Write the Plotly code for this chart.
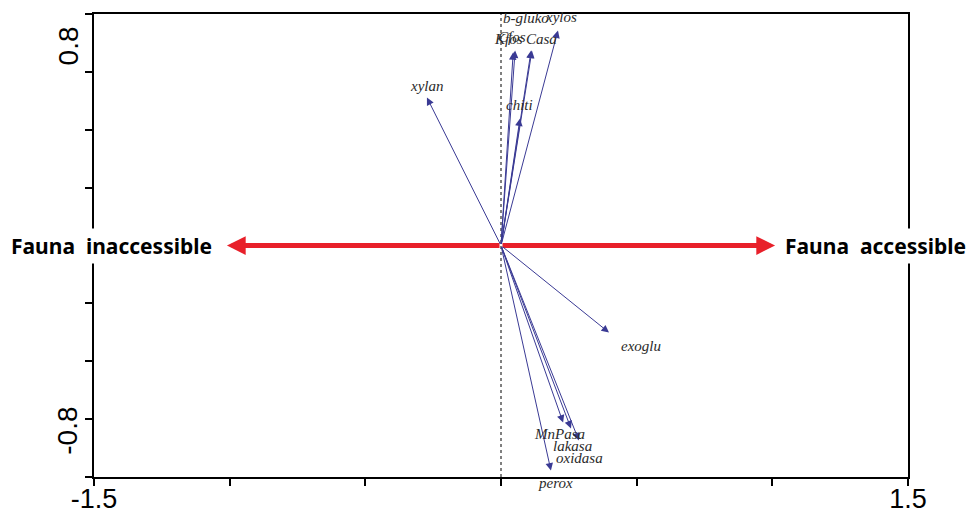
import plotly.graph_objects as go

# ---- data ----
variables = ["xylan", "chiti", "b-gluko", "xylos", "Kfos", "Cfos", "Casa",
             "exoglu", "MnPasa", "lakasa", "oxidasa", "perox"]
arrow_x = [-0.273, 0.070, 0.111, 0.210, 0.052, 0.045, 0.114,
           0.398, 0.229, 0.258, 0.287, 0.184]
arrow_y = [0.639, 0.549, 0.842, 0.929, 0.842, 0.835, 0.842,
           -0.376, -0.765, -0.790, -0.842, -0.972]
label_x = [-0.273, 0.070, 0.092, 0.221, 0.029, 0.040, 0.151,
           0.516, 0.214, 0.262, 0.291, 0.199]
label_y = [0.691, 0.609, 0.981, 0.985, 0.894, 0.900, 0.894,
           -0.432, -0.816, -0.864, -0.920, -1.024]

x_tick_vals = [-1.5, -1.0, -0.5, 0.0, 0.5, 1.0, 1.5]
x_tick_text = ["-1.5", "", "", "", "", "", "1.5"]
y_tick_vals = [-1.0, -0.75, -0.5, -0.25, 0.0, 0.25, 0.5, 0.75, 1.0]
y_label_text = ["0.8", "-0.8"]
y_label_pos = [0.86, -0.80]

gradient_x = [-1.01, 1.01]
gradient_names = ["Fauna\u00a0 inaccessible", "Fauna\u00a0 accessible"]
gradient_label_x = [-1.437, 1.379]

X_RANGE = [-1.5, 1.5]
Y_RANGE = [-1.0, 1.0]

BLUE = "#3a3a94"
RED = "#e8202a"

fig = go.Figure()

# dotted vertical line at x=0
fig.add_trace(go.Scatter(x=[0, 0], y=Y_RANGE, mode="lines",
                         line=dict(color="black", width=1, dash="dot"),
                         hoverinfo="skip", showlegend=False))

annotations = []
# red double arrow
for gx in gradient_x:
    annotations.append(dict(x=gx, y=0, ax=0, ay=0, xref="x", yref="y",
                            axref="x", ayref="y", text="", showarrow=True,
                            arrowhead=2, arrowsize=0.75, arrowwidth=5,
                            arrowcolor=RED, standoff=0, startstandoff=0))
# blue biplot arrows
for vx, vy in zip(arrow_x, arrow_y):
    annotations.append(dict(x=vx, y=vy, ax=0, ay=0, xref="x", yref="y",
                            axref="x", ayref="y", text="", showarrow=True,
                            arrowhead=2, arrowsize=1.5, arrowwidth=1,
                            arrowcolor=BLUE, standoff=0))
# variable labels (labels beyond the y range are placed in paper units so they stay visible)
for name, lx, ly in zip(variables, label_x, label_y):
    ann = dict(x=lx, y=ly, xref="x", yref="y", text="<i>" + name + "</i>",
               showarrow=False, xanchor="center", yanchor="middle",
               font=dict(family="Liberation Serif", size=15, color="#2b2b2b"))
    if ly < Y_RANGE[0] or ly > Y_RANGE[1]:
        ann["yref"] = "paper"
        ann["y"] = (ly - Y_RANGE[0]) / (Y_RANGE[1] - Y_RANGE[0])
    annotations.append(ann)
# gradient labels
for name, gx in zip(gradient_names, gradient_label_x):
    annotations.append(dict(x=gx, y=0, xref="x", yref="y", text="<b>" + name + "</b>",
                            showarrow=False, xanchor="center", yanchor="middle",
                            bgcolor="white", borderpad=3,
                            font=dict(family="Noto Sans", size=21, color="black")))
# y tick labels (rotated)
for t, p in zip(y_label_text, y_label_pos):
    annotations.append(dict(x=0, y=p, xref="paper", yref="y", text=t,
                            showarrow=False, textangle=-90, xanchor="center",
                            yanchor="middle", xshift=-26,
                            font=dict(family="Liberation Sans", size=28, color="black")))

fig.update_layout(
    width=971, height=521,
    margin=dict(l=94, r=63, t=14, b=44, autoexpand=False),
    paper_bgcolor="white", plot_bgcolor="white",
    showlegend=False,
    annotations=annotations,
    xaxis=dict(range=X_RANGE, tickvals=x_tick_vals, ticktext=x_tick_text,
               ticks="outside", ticklen=7, tickwidth=1.5, tickcolor="black",
               showline=True, linewidth=2, linecolor="black", mirror=True,
               showgrid=False, zeroline=False, automargin=False,
               ticklabelstandoff=-10,
               tickfont=dict(family="Liberation Sans", size=27, color="black")),
    yaxis=dict(range=Y_RANGE, tickvals=y_tick_vals, showticklabels=False,
               ticks="outside", ticklen=7, tickwidth=1.5, tickcolor="black",
               showline=True, linewidth=2, linecolor="black", mirror=True,
               showgrid=False, zeroline=False, automargin=False),
)

fig.write_html("out.html", config={"displayModeBar": False},
               post_script="document.body.style.margin='0';document.body.style.overflow='hidden';")
